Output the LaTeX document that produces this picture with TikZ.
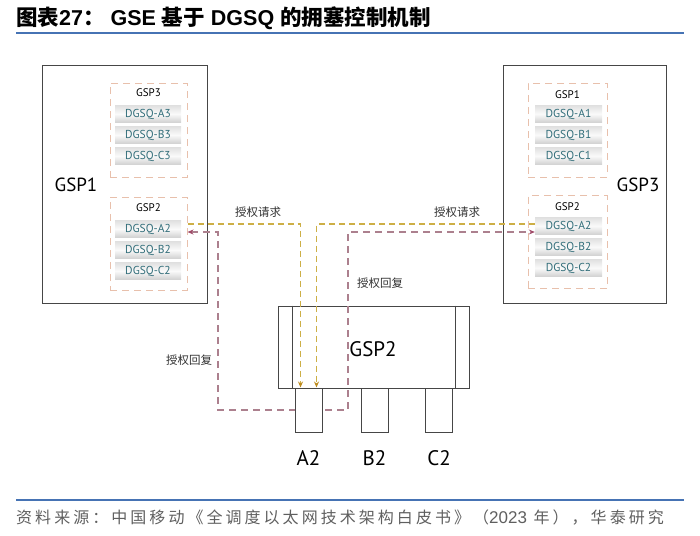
\documentclass[tikz,border=0pt]{standalone}
\usepackage{fontspec}
\setmainfont{Liberation Sans}
\newfontfamily\labelfont{PT Sans}
\newfontfamily\cjk{Noto Sans CJK SC}
\newfontfamily\srcfont[LetterSpace=19]{Noto Sans CJK SC}
\usetikzlibrary{arrows.meta}
\definecolor{titleblue}{RGB}{70,115,180}
\definecolor{boxgray}{RGB}{70,70,70}
\definecolor{peach}{RGB}{232,192,172}
\definecolor{dgsqteal}{RGB}{50,110,122}
\definecolor{reqyellow}{RGB}{205,175,70}
\definecolor{tipgold}{RGB}{190,140,30}
\definecolor{replymauve}{RGB}{172,128,142}
\definecolor{tipmauve}{RGB}{160,75,105}
\definecolor{srcgray}{RGB}{95,95,95}
\begin{document}
\begin{tikzpicture}[x=1pt,y=-1pt,
  outer/.style={draw=boxgray,line width=1pt,minimum width=165,minimum height=238,inner sep=0},
  grp/.style={draw=peach,line width=1pt,dash pattern=on 7pt off 5pt,minimum width=77,minimum height=94,inner sep=0},
  grptitle/.style={inner sep=0,font=\labelfont\fontsize{11}{13}\selectfont},
  bar/.style={top color=gray!24,bottom color=gray!36,middle color=gray!4,minimum width=66,minimum height=17,inner sep=0,text=dgsqteal,font=\labelfont\fontsize{11.5}{13}\selectfont},
  biglabel/.style={inner sep=0,font=\labelfont\fontsize{19}{22}\selectfont},
  port/.style={draw=boxgray,line width=1pt,fill=white,minimum width=27,minimum height=44,inner sep=0},
  msg/.style={inner sep=0,text=black!80,font=\cjk\fontsize{11.5}{13}\selectfont},
  req/.style={draw=reqyellow,line width=1.1pt,dash pattern=on 6pt off 4pt,-{Stealth[length=6pt,width=5pt,color=tipgold]}},
  reply/.style={draw=replymauve,line width=1.1pt,dash pattern=on 7pt off 5pt,{Stealth[length=6pt,width=5pt,color=tipmauve]}-{Stealth[length=6pt,width=5pt,color=tipmauve]}}]
 \useasboundingbox (0,0) rectangle (700,535);

 % title and source
 \node[anchor=west,inner sep=0,font=\fontsize{21.5}{25}\selectfont\bfseries] (title) at (16,18) {{\cjk 图表}27{\cjk ：} GSE {\cjk 基于} DGSQ {\cjk 的拥塞控制机制}};
 \draw[titleblue,line width=1.5pt] (16,33) -- (684,33);
 \draw[titleblue,line width=1.5pt] (16,500) -- (684,500);
 \node[anchor=west,inner sep=0,text=srcgray,font=\srcfont\fontsize{16}{18}\selectfont] (source) at (16,517) {资料来源：中国移动《全调度以太网技术架构白皮书》（{\rmfamily\fontsize{17}{18}\selectfont 2023} 年），华泰研究};

 % GSP1 and GSP3
 \node[outer] (gsp1) at (124.5,184) {};
 \node[outer,minimum width=163] (gsp3) at (584.5,184) {};
 \node[biglabel] (gsp1l) at (76,185) {GSP1};
 \node[biglabel] (gsp3l) at (638,185) {GSP3};

 \node[grp] (lg3) at (148.5,130) {};
 \node[grp,minimum height=93] (lg2) at (148.5,243.5) {};
 \node[grp,minimum width=79] (rg1) at (567.5,130) {};
 \node[grp,minimum width=79,minimum height=93] (rg2) at (567.5,242) {};
 \node[grptitle] (lt3) at (148.5,93) {GSP3};
 \node[grptitle] (lt2) at (148.5,208) {GSP2};
 \node[grptitle] (rt1) at (567.5,95) {GSP1};
 \node[grptitle] (rt2) at (567.5,207) {GSP2};

 \foreach \n/\t/\y in {la3/A3/114,lb3/B3/135,lc3/C3/156,la2/A2/229,lb2/B2/250,lc2/C2/271}
  \node[bar] (\n) at (148,\y) {DGSQ-\t};
 \foreach \n/\t/\y in {ra1/A1/114,rb1/B1/135,rc1/C1/156,ra2/A2/226,rb2/B2/247,rc2/C2/268}
  \node[bar,minimum width=67] (\n) at (568.5,\y) {DGSQ-\t};

 % GSP2 switch
 \node[outer,minimum width=191,minimum height=82] (sw) at (373.5,347) {};
 \draw[boxgray,line width=1pt] ([xshift=15]sw.north west) -- ([xshift=15]sw.south west);
 \draw[boxgray,line width=1pt] ([xshift=-14]sw.north east) -- ([xshift=-14]sw.south east);
 \node[biglabel,font=\labelfont\fontsize{21}{24}\selectfont] (swl) at (373,349) {GSP2};

 % reply path
 \coordinate (replyL) at (218,410);
 \coordinate (replyR) at (348,410);
 \draw[reply] ([yshift=-3]la2.east -| lg2.east) -| (replyL) -- (replyR) |- ([yshift=-6]ra2.west);

 \foreach \n/\t/\x in {pa2/A2/308.5,pb2/B2/374.5,pc2/C2/439}{
  \node[port] (\n) at (\x,410) {};
  \node[biglabel,font=\labelfont\fontsize{21}{24}\selectfont] (\n l) at (\x,458) {\t};
 }

 % request paths
 \draw[req] ([yshift=5]la2.east -| lg2.east) -| ([xshift=-8]pa2.north);
 \draw[req] ([yshift=2]ra2.west) -| ([xshift=8]pa2.north);

 \node[msg] (reqL) at (258,212) {授权请求};
 \node[msg] (reqR) at (457,212) {授权请求};
 \node[msg] (repR) at (380,283) {授权回复};
 \node[msg] (repL) at (189,360) {授权回复};
\end{tikzpicture}
\end{document}
